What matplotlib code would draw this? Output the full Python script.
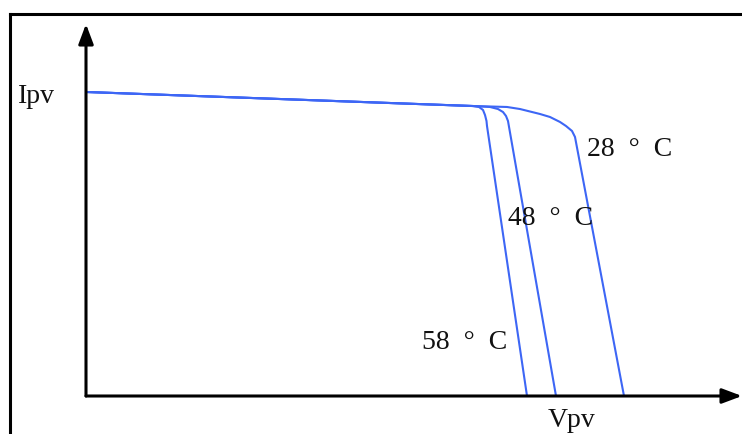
"""PV I-V characteristic at several cell temperatures."""

import matplotlib
matplotlib.use("Agg")
import matplotlib.pyplot as plt
from matplotlib.lines import Line2D

# curve points (V, I)
v58 = [0, 15.48, 15.72, 15.88, 15.96, 16.02, 16.04, 17.64]
i58 = [5.067, 4.833, 4.817, 4.767, 4.683, 4.583, 4.5, 0]
v48 = [0, 15.48, 16.16, 16.48, 16.68, 16.8, 16.88, 18.8]
i48 = [5.067, 4.833, 4.817, 4.783, 4.733, 4.667, 4.583, 0]
v28 = [0, 15.48, 16.16, 16.84, 17.36, 18.16, 18.56, 18.96, 19.2, 19.44, 19.56, 21.52]
i28 = [5.067, 4.833, 4.825, 4.817, 4.783, 4.70, 4.65, 4.567, 4.5, 4.417, 4.317, 0]

labels = ["28  °  C", "48  °  C", "58  °  C"]
label_pos = [(20.04, 4.117), (16.88, 2.983), (13.44, 0.9)]

W, H = 742, 435
fig = plt.figure(figsize=(W / 100, H / 100), dpi=100)
ax = fig.add_axes([86 / W, (H - 397) / H, (W - 86) / W, (397 - 25) / H])
ax.set_xlim(0, 26.24)
ax.set_ylim(0, 6.2)
ax.axis("off")

blue = "#3d66f5"
for v, i in [(v58, i58), (v48, i48), (v28, i28)]:
    ax.plot(v, i, color=blue, lw=1.5, solid_joinstyle="round")

arrow = dict(arrowstyle="-|>,head_length=1.2,head_width=0.45",
             color="black", lw=2.2, shrinkA=0, shrinkB=0)
ax.annotate("", xy=(1, 0), xytext=(0, 0), xycoords="axes fraction",
            arrowprops=arrow)
ax.annotate("", xy=(0, 1), xytext=(0, 0), xycoords="axes fraction",
            arrowprops=arrow)

font = dict(family="Liberation Serif", fontsize=20, color="#111111")
for txt, (x, y) in zip(labels, label_pos):
    ax.text(x, y, txt, ha="left", va="center", **font)
ax.text(-2.72, 5.0, "Ipv", ha="left", va="center", clip_on=False, **font)
ax.text(18.48, -0.4, "Vpv", ha="left", va="center", clip_on=False, **font)

# outer frame (top and left edges only are visible)
fig.add_artist(Line2D([10 / W, 1], [1 - 15 / H, 1 - 15 / H],
                      transform=fig.transFigure, color="black", lw=2.2))
fig.add_artist(Line2D([10 / W, 10 / W], [0, 1 - 15 / H],
                      transform=fig.transFigure, color="black", lw=2.2))

fig.savefig("out.png", dpi=100)
